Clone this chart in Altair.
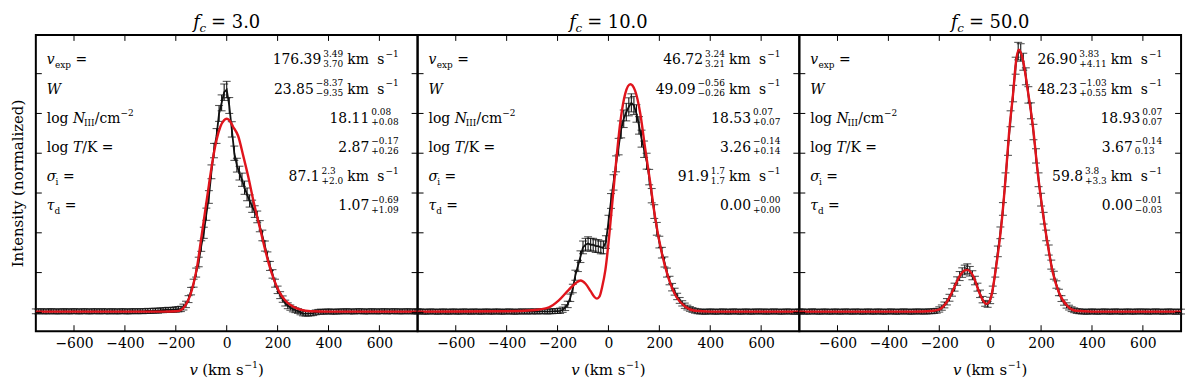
import altair as alt
import pandas as pd

# ---------------- data ----------------
V_GRID = list(range(-750, 751, 10))
X_TICKS = [-600, -400, -200, 0, 200, 400, 600]
Y_TICKS = [0.0, 0.15, 0.3, 0.45, 0.6, 0.75, 0.9]
FC_LABELS = ["3.0", "10.0", "50.0"]

P1_FLUX = [
    0.004, 0.003, 0.005, 0.004, 0.003, 0.004, 0.005, 0.003, 0.004, 0.004,
    0.003, 0.005, 0.004, 0.003, 0.004, 0.005, 0.004, 0.003, 0.004, 0.005,
    0.004, 0.003, 0.004, 0.005, 0.004, 0.003, 0.005, 0.004, 0.004, 0.003,
    0.005, 0.004, 0.003, 0.004, 0.005, 0.004, 0.003, 0.004, 0.005, 0.004,
    0.004, 0.005, 0.004, 0.005, 0.006, 0.005, 0.006, 0.007, 0.006, 0.008,
    0.008, 0.009, 0.010, 0.009, 0.010, 0.011, 0.012, 0.013, 0.020, 0.030,
    0.050, 0.080, 0.110, 0.150, 0.190, 0.250, 0.300, 0.370, 0.435, 0.530,
    0.610, 0.665, 0.750, 0.790, 0.830, 0.840, 0.780, 0.690, 0.600, 0.555,
    0.525, 0.500, 0.470, 0.445, 0.420, 0.400, 0.380, 0.360, 0.325, 0.290,
    0.250, 0.210, 0.175, 0.145, 0.110, 0.085, 0.065, 0.050, 0.035, 0.025,
    0.018, 0.012, 0.008, 0.005, 0.000, -0.004, -0.005, -0.005, -0.004, -0.003,
    0.000, 0.002, 0.003, 0.002, 0.003, 0.004, 0.003, 0.002, 0.003, 0.004,
    0.003, 0.004, 0.005, 0.003, 0.004, 0.003, 0.004, 0.005, 0.004, 0.003,
    0.004, 0.003, 0.005, 0.004, 0.003, 0.004, 0.004, 0.005, 0.003, 0.004,
    0.004, 0.005, 0.003, 0.004, 0.004, 0.003, 0.005, 0.004, 0.003, 0.004,
    0.004,
]
P1_ERR = [
    0.009, 0.009, 0.009, 0.009, 0.009, 0.009, 0.009, 0.009, 0.009, 0.009,
    0.009, 0.009, 0.009, 0.009, 0.009, 0.009, 0.009, 0.009, 0.009, 0.009,
    0.009, 0.009, 0.009, 0.009, 0.009, 0.009, 0.009, 0.009, 0.009, 0.009,
    0.009, 0.009, 0.009, 0.009, 0.009, 0.009, 0.009, 0.009, 0.009, 0.009,
    0.009, 0.009, 0.009, 0.009, 0.009, 0.009, 0.009, 0.009, 0.009, 0.009,
    0.009, 0.009, 0.009, 0.009, 0.009, 0.010, 0.010, 0.010, 0.011, 0.012,
    0.013, 0.014, 0.015, 0.017, 0.018, 0.020, 0.021, 0.023, 0.024, 0.026,
    0.027, 0.028, 0.030, 0.030, 0.031, 0.031, 0.030, 0.029, 0.027, 0.026,
    0.026, 0.025, 0.025, 0.024, 0.023, 0.023, 0.022, 0.022, 0.021, 0.020,
    0.019, 0.018, 0.017, 0.016, 0.015, 0.014, 0.013, 0.012, 0.011, 0.011,
    0.010, 0.010, 0.009, 0.009, 0.009, 0.009, 0.009, 0.009, 0.009, 0.009,
    0.009, 0.009, 0.009, 0.009, 0.009, 0.009, 0.009, 0.009, 0.009, 0.009,
    0.009, 0.009, 0.009, 0.009, 0.009, 0.009, 0.009, 0.009, 0.009, 0.009,
    0.009, 0.009, 0.009, 0.009, 0.009, 0.009, 0.009, 0.009, 0.009, 0.009,
    0.009, 0.009, 0.009, 0.009, 0.009, 0.009, 0.009, 0.009, 0.009, 0.009,
    0.009,
]
P1_MODEL_V = [-750, -400, -250, -200, -175, -160, -145, -130, -115, -100,
              -85, -70, -55, -40, -25, -10, 0, 10, 25, 45,
              65, 85, 105, 125, 145, 165, 185, 205, 230, 260,
              290, 330, 400, 750]
P1_MODEL_F = [0.003, 0.003, 0.003, 0.004, 0.012, 0.030, 0.060, 0.110, 0.180, 0.280,
              0.380, 0.480, 0.575, 0.650, 0.700, 0.725, 0.730, 0.725, 0.700, 0.665,
              0.590, 0.510, 0.420, 0.340, 0.260, 0.185, 0.125, 0.080, 0.045, 0.022,
              0.010, 0.004, 0.003, 0.003]

P2_FLUX = [
    0.003, 0.004, 0.003, 0.002, 0.003, 0.004, 0.003, 0.003, 0.002, 0.003,
    0.004, 0.003, 0.002, 0.003, 0.004, 0.003, 0.002, 0.003, 0.004, 0.003,
    0.003, 0.002, 0.004, 0.003, 0.003, 0.002, 0.003, 0.004, 0.003, 0.002,
    0.003, 0.004, 0.003, 0.002, 0.003, 0.003, 0.004, 0.003, 0.002, 0.003,
    0.003, 0.004, 0.003, 0.003, 0.004, 0.003, 0.004, 0.003, 0.004, 0.004,
    0.004, 0.003, 0.004, 0.004, 0.005, 0.005, 0.006, 0.010, 0.018, 0.030,
    0.055, 0.090, 0.140, 0.175, 0.210, 0.245, 0.255, 0.260, 0.255, 0.255,
    0.250, 0.250, 0.245, 0.245, 0.265, 0.340, 0.420, 0.490, 0.560, 0.625,
    0.690, 0.730, 0.755, 0.775, 0.790, 0.780, 0.750, 0.705, 0.655, 0.615,
    0.570, 0.510, 0.440, 0.380, 0.315, 0.265, 0.225, 0.190, 0.150, 0.120,
    0.095, 0.078, 0.060, 0.045, 0.034, 0.025, 0.018, 0.013, 0.009, 0.006,
    0.004, 0.003, 0.003, 0.002, 0.003, 0.004, 0.003, 0.002, 0.003, 0.003,
    0.004, 0.003, 0.002, 0.003, 0.004, 0.003, 0.003, 0.002, 0.003, 0.004,
    0.003, 0.002, 0.003, 0.004, 0.003, 0.003, 0.004, 0.002, 0.003, 0.003,
    0.004, 0.003, 0.003, 0.002, 0.003, 0.004, 0.003, 0.003, 0.002, 0.003,
    0.003,
]
P2_ERR = [
    0.009, 0.009, 0.009, 0.009, 0.009, 0.009, 0.009, 0.009, 0.009, 0.009,
    0.009, 0.009, 0.009, 0.009, 0.009, 0.009, 0.009, 0.009, 0.009, 0.009,
    0.009, 0.009, 0.009, 0.009, 0.009, 0.009, 0.009, 0.009, 0.009, 0.009,
    0.009, 0.009, 0.009, 0.009, 0.009, 0.009, 0.009, 0.009, 0.009, 0.009,
    0.009, 0.009, 0.009, 0.009, 0.009, 0.009, 0.009, 0.009, 0.009, 0.009,
    0.009, 0.009, 0.009, 0.009, 0.009, 0.009, 0.010, 0.010, 0.011, 0.012,
    0.014, 0.016, 0.019, 0.021, 0.022, 0.024, 0.024, 0.025, 0.024, 0.024,
    0.024, 0.024, 0.024, 0.024, 0.024, 0.026, 0.028, 0.029, 0.030, 0.031,
    0.032, 0.033, 0.033, 0.034, 0.034, 0.034, 0.033, 0.033, 0.032, 0.031,
    0.030, 0.029, 0.027, 0.026, 0.024, 0.022, 0.020, 0.019, 0.017, 0.016,
    0.014, 0.013, 0.012, 0.011, 0.010, 0.010, 0.009, 0.009, 0.009, 0.009,
    0.009, 0.009, 0.009, 0.009, 0.009, 0.009, 0.009, 0.009, 0.009, 0.009,
    0.009, 0.009, 0.009, 0.009, 0.009, 0.009, 0.009, 0.009, 0.009, 0.009,
    0.009, 0.009, 0.009, 0.009, 0.009, 0.009, 0.009, 0.009, 0.009, 0.009,
    0.009, 0.009, 0.009, 0.009, 0.009, 0.009, 0.009, 0.009, 0.009, 0.009,
    0.009,
]
P2_MODEL_V = [-750, -400, -300, -234, -195, -156, -129, -109, -90, -70,
              -55, -45, -35, -25, -12, 0, 8, 27, 47, 66,
              86, 105, 125, 144, 164, 183, 207, 234, 266, 301,
              340, 400, 750]
P2_MODEL_F = [0.003, 0.004, 0.008, 0.019, 0.045, 0.085, 0.110, 0.120, 0.108, 0.080,
              0.058, 0.052, 0.060, 0.095, 0.160, 0.260, 0.340, 0.535, 0.720, 0.825,
              0.860, 0.835, 0.750, 0.620, 0.490, 0.360, 0.235, 0.135, 0.060, 0.022,
              0.006, 0.003, 0.003]

P3_FLUX = [
    0.003, 0.004, 0.003, 0.002, 0.003, 0.004, 0.003, 0.003, 0.002, 0.003,
    0.004, 0.003, 0.002, 0.003, 0.004, 0.003, 0.002, 0.003, 0.004, 0.003,
    0.003, 0.002, 0.004, 0.003, 0.003, 0.002, 0.003, 0.004, 0.003, 0.002,
    0.003, 0.004, 0.003, 0.002, 0.003, 0.003, 0.004, 0.003, 0.002, 0.003,
    0.003, 0.004, 0.003, 0.003, 0.002, 0.003, 0.004, 0.003, 0.003, 0.003,
    0.003, 0.004, 0.004, 0.005, 0.006, 0.011, 0.018, 0.028, 0.040, 0.055,
    0.075, 0.095, 0.118, 0.137, 0.150, 0.160, 0.165, 0.155, 0.140, 0.120,
    0.095, 0.070, 0.048, 0.034, 0.030, 0.045, 0.085, 0.150, 0.230, 0.300,
    0.390, 0.500, 0.620, 0.730, 0.825, 0.930, 0.985, 0.980, 0.945, 0.890,
    0.820, 0.760, 0.680, 0.590, 0.500, 0.425, 0.355, 0.290, 0.235, 0.180,
    0.140, 0.105, 0.075, 0.052, 0.037, 0.026, 0.018, 0.012, 0.008, 0.005,
    0.004, 0.003, 0.003, 0.002, 0.003, 0.004, 0.003, 0.002, 0.003, 0.003,
    0.004, 0.003, 0.002, 0.003, 0.004, 0.003, 0.003, 0.002, 0.003, 0.004,
    0.003, 0.002, 0.003, 0.004, 0.003, 0.003, 0.004, 0.002, 0.003, 0.003,
    0.004, 0.003, 0.003, 0.002, 0.003, 0.004, 0.003, 0.003, 0.002, 0.003,
    0.003,
]
P3_ERR = [
    0.009, 0.009, 0.009, 0.009, 0.009, 0.009, 0.009, 0.009, 0.009, 0.009,
    0.009, 0.009, 0.009, 0.009, 0.009, 0.009, 0.009, 0.009, 0.009, 0.009,
    0.009, 0.009, 0.009, 0.009, 0.009, 0.009, 0.009, 0.009, 0.009, 0.009,
    0.009, 0.009, 0.009, 0.009, 0.009, 0.009, 0.009, 0.009, 0.009, 0.009,
    0.009, 0.009, 0.009, 0.009, 0.009, 0.009, 0.009, 0.009, 0.009, 0.009,
    0.009, 0.009, 0.009, 0.009, 0.009, 0.010, 0.010, 0.011, 0.012, 0.013,
    0.014, 0.015, 0.016, 0.017, 0.018, 0.018, 0.018, 0.018, 0.017, 0.016,
    0.015, 0.014, 0.012, 0.011, 0.011, 0.012, 0.014, 0.017, 0.020, 0.022,
    0.024, 0.026, 0.028, 0.030, 0.031, 0.032, 0.033, 0.033, 0.032, 0.032,
    0.031, 0.030, 0.029, 0.027, 0.026, 0.024, 0.022, 0.020, 0.019, 0.017,
    0.015, 0.014, 0.012, 0.011, 0.010, 0.010, 0.009, 0.009, 0.009, 0.009,
    0.009, 0.009, 0.009, 0.009, 0.009, 0.009, 0.009, 0.009, 0.009, 0.009,
    0.009, 0.009, 0.009, 0.009, 0.009, 0.009, 0.009, 0.009, 0.009, 0.009,
    0.009, 0.009, 0.009, 0.009, 0.009, 0.009, 0.009, 0.009, 0.009, 0.009,
    0.009, 0.009, 0.009, 0.009, 0.009, 0.009, 0.009, 0.009, 0.009, 0.009,
    0.009,
]
P3_MODEL_V = [-750, -300, -230, -199, -172, -145, -121, -100, -90, -66,
              -43, -25, -16, -8, 4, 23, 43, 62, 74, 90,
              102, 113, 129, 148, 168, 187, 207, 227, 246, 270,
              305, 336, 400, 750]
P3_MODEL_F = [0.003, 0.003, 0.005, 0.011, 0.037, 0.086, 0.135, 0.158, 0.160, 0.135,
              0.075, 0.040, 0.032, 0.035, 0.060, 0.170, 0.320, 0.525, 0.675, 0.825,
              0.950, 0.990, 0.950, 0.835, 0.700, 0.525, 0.375, 0.250, 0.150, 0.075,
              0.022, 0.006, 0.003, 0.003]

# left-hand parameter labels: (text, kind) kind: i=italic, n=normal, b=subscript, p=superscript, g=gap
ROW_LABELS = [
    [("v", "i"), ("exp", "b"), ("", "g"), ("=", "n")],
    [("W", "i")],
    [("log", "n"), ("", "g"), ("N", "i"), ("III", "b"), ("/cm", "n"), ("−2", "p")],
    [("log", "n"), ("", "g"), ("T", "i"), ("/K =", "n")],
    [("σ", "i"), ("i", "b"), ("", "g"), ("=", "n")],
    [("τ", "i"), ("d", "b"), ("", "g"), ("=", "n")],
]
HAS_UNIT = [True, True, False, False, True, False]

P1_NUM = ["176.39", "23.85", "18.11", "2.87", "87.1", "1.07"]
P1_SUP = ["3.49", "−8.37", "0.08", "−0.17", "2.3", "−0.69"]
P1_SUB = ["3.70", "−9.35", "+0.08", "+0.26", "+2.0", "+1.09"]
P2_NUM = ["46.72", "49.09", "18.53", "3.26", "91.9", "0.00"]
P2_SUP = ["3.24", "−0.56", "0.07", "−0.14", "1.7", "−0.00"]
P2_SUB = ["3.21", "−0.26", "+0.07", "+0.14", "1.7", "+0.00"]
P3_NUM = ["26.90", "48.23", "18.93", "3.67", "59.8", "0.00"]
P3_SUP = ["3.83", "−1.03", "0.07", "−0.14", "3.8", "−0.01"]
P3_SUB = ["+4.11", "+0.55", "0.07", "0.13", "+3.3", "−0.03"]

PANELS = [
    (P1_FLUX, P1_ERR, P1_MODEL_V, P1_MODEL_F, P1_NUM, P1_SUP, P1_SUB),
    (P2_FLUX, P2_ERR, P2_MODEL_V, P2_MODEL_F, P2_NUM, P2_SUP, P2_SUB),
    (P3_FLUX, P3_ERR, P3_MODEL_V, P3_MODEL_F, P3_NUM, P3_SUP, P3_SUB),
]

# ---------------- styling / layout ----------------
FONT = "DejaVu Serif"
W, H = 384, 298
XMIN, XMAX = -750, 750
YMIN, YMAX = -0.071, 1.046
RED = "#e0141c"
INK = "#111111"

MAIN = 14.0
SCR = 9.0
UNIT = 14.0
SUP_DY, SUB_DY = -7.5, 2.5
LAB_SUB_DY, LAB_SUP_DY = 3.5, -7.0
ROW0, ROWSTEP = 29.5, 29.4
LEFT_X, RIGHT_X = 11, W - 19

# DejaVu Serif advance widths (em)
ADV = {
    "0": .636, "1": .636, "2": .636, "3": .636, "4": .636, "5": .636, "6": .636,
    "7": .636, "8": .636, "9": .636, ".": .318, " ": .318, "=": .838, "+": .838,
    "−": .838, "k": .648, "m": .947, "s": .513, "l": .320, "o": .602, "g": .635,
    "/": .337, "c": .560, "K": .710, "T": .668, "N": .799, "W": 1.03, "v": .586,
    "σ": .63, "τ": .55, "I": .402, "e": .592, "x": .565, "p": .640, "i": .320,
    "d": .640, "f": .35, "(": .390, ")": .390,
}


def text_w(s, size):
    return sum(ADV.get(c, 0.6) for c in s) * size


def place(segs, x0, y0, out):
    x = x0
    for seg in segs:
        kind = seg[0]
        if kind == "gap":
            x += seg[1]
            continue
        if kind == "stack":
            _, sup, sub, size, dsup, dsub = seg
            out.append(dict(px=x, py=y0 + dsup, t=sup, fs=size, it=False))
            out.append(dict(px=x, py=y0 + dsub, t=sub, fs=size, it=False))
            x += max(text_w(sup, size), text_w(sub, size))
            continue
        _, t, size, dy, it = seg
        out.append(dict(px=x, py=y0 + dy, t=t, fs=size, it=it))
        x += text_w(t, size)
    return x - x0


def seg_width(segs):
    return place(segs, 0, 0, [])


def label_segs(row):
    segs = []
    for t, k in row:
        if k == "i":
            segs.append(("txt", t, MAIN, 0, True))
        elif k == "n":
            segs.append(("txt", t, MAIN, 0, False))
        elif k == "b":
            segs.append(("txt", t, SCR, LAB_SUB_DY, False))
        elif k == "p":
            segs.append(("txt", t, SCR, LAB_SUP_DY, False))
        else:
            segs.append(("gap", 4.5))
    return segs


def value_segs(num, sup, sub, unit):
    segs = [("txt", num, MAIN, 0, False), ("gap", 2),
            ("stack", sup, sub, SCR, SUP_DY, SUB_DY)]
    if unit:
        segs += [("gap", 4), ("txt", "km", UNIT, 0, False), ("gap", 8),
                 ("txt", "s", UNIT, 0, False), ("gap", 1),
                 ("txt", "−1", SCR, SUP_DY, False)]
    return segs


def text_pieces(idx, nums, sups, subs):
    out = []
    for r in range(6):
        y0 = ROW0 + ROWSTEP * r
        place(label_segs(ROW_LABELS[r]), LEFT_X, y0, out)
        vs = value_segs(nums[r], sups[r], subs[r], HAS_UNIT[r])
        place(vs, RIGHT_X - seg_width(vs), y0, out)
    tsegs = [("txt", "f", 18, 0, True), ("txt", "c", 12, 4, True), ("gap", 5),
             ("txt", "= " + FC_LABELS[idx], 18, 0, False)]
    place(tsegs, W / 2 - seg_width(tsegs) / 2, -7, out)
    xsegs = [("txt", "v", 15, 0, True), ("gap", 4), ("txt", "(km s", 15, 0, False),
             ("txt", "−1", 9.5, -7, False), ("txt", ")", 15, 0, False)]
    place(xsegs, W / 2 - seg_width(xsegs) / 2, H + 44, out)
    df = pd.DataFrame(out)
    df["dx"] = XMIN + df["px"] * (XMAX - XMIN) / W
    df["dy"] = YMAX - df["py"] * (YMAX - YMIN) / H
    return df


def panel(idx):
    flux, err, mv, mf, nums, sups, subs = PANELS[idx]
    d = pd.DataFrame({"v": V_GRID, "f": flux, "e": err})
    d["lo"] = d["f"] - d["e"]
    d["hi"] = d["f"] + d["e"]
    m = pd.DataFrame({"v": mv, "f": mf})

    xs = alt.Scale(domain=[XMIN, XMAX], nice=False, zero=False)
    ys = alt.Scale(domain=[YMIN, YMAX], nice=False, zero=False)
    xaxis = alt.Axis(values=X_TICKS, ticks=False, tickSize=0, domain=False, grid=False,
                     title=None, labelFont=FONT, labelFontSize=14, labelColor="black",
                     labelPadding=5, labelFlush=False, labelOverlap=False)
    if idx == 0:
        yaxis = alt.Axis(labels=False, ticks=False, domain=False, grid=False,
                         title="Intensity (normalized)", titleFont=FONT, titleFontSize=15,
                         titleFontWeight="normal", titleColor="black", titlePadding=10)
    else:
        yaxis = None

    def X(f):
        return alt.X(f, type="quantitative", scale=xs, axis=xaxis)

    def Y(f):
        return alt.Y(f, type="quantitative", scale=ys, axis=yaxis)

    base = alt.Chart(d)
    bars = base.mark_rule(color=INK, strokeWidth=1.1).encode(x=X("v"), y=Y("lo"), y2="hi")
    cap_hi = base.mark_tick(orient="horizontal", color=INK, size=8, thickness=1.1).encode(x=X("v"), y=Y("hi"))
    cap_lo = base.mark_tick(orient="horizontal", color=INK, size=8, thickness=1.1).encode(x=X("v"), y=Y("lo"))
    dline = base.mark_line(color=INK, strokeWidth=1.8).encode(x=X("v"), y=Y("f"))
    model = alt.Chart(m).mark_line(color=RED, strokeWidth=2.4, interpolate="monotone").encode(
        x=X("v"), y=Y("f"))

    xt = alt.Chart(pd.DataFrame({"t": X_TICKS}))
    xt_bot = xt.mark_rule(color="black", strokeWidth=1).encode(x=X("t"), y=alt.value(H), y2=alt.value(H - 6))
    xt_top = xt.mark_rule(color="black", strokeWidth=1).encode(x=X("t"), y=alt.value(0), y2=alt.value(6))
    yt = alt.Chart(pd.DataFrame({"t": Y_TICKS}))
    yt_l = yt.mark_rule(color="black", strokeWidth=1).encode(y=Y("t"), x=alt.value(0), x2=alt.value(6))
    yt_r = yt.mark_rule(color="black", strokeWidth=1).encode(y=Y("t"), x=alt.value(W), x2=alt.value(W - 6))

    tp = text_pieces(idx, nums, sups, subs)
    t_norm = alt.Chart(tp[~tp["it"]]).mark_text(
        align="left", baseline="alphabetic", font=FONT, color="black").encode(
        x=X("dx"), y=Y("dy"), text="t:N", size=alt.Size("fs:Q", scale=None, legend=None))
    t_ital = alt.Chart(tp[tp["it"]]).mark_text(
        align="left", baseline="alphabetic", font=FONT, color="black", fontStyle="italic").encode(
        x=X("dx"), y=Y("dy"), text="t:N", size=alt.Size("fs:Q", scale=None, legend=None))

    return alt.layer(bars, cap_hi, cap_lo, dline, model, xt_bot, xt_top, yt_l, yt_r,
                     t_norm, t_ital).properties(width=W, height=H)


chart = alt.hconcat(panel(0), panel(1), panel(2), spacing=0, bounds="flush").configure_view(
    stroke="black", strokeWidth=2).properties(
    padding={"left": 2, "top": 3, "right": 5, "bottom": 2}, background="white")

chart.save("out.html", embed_options={"renderer": "svg", "actions": False})
